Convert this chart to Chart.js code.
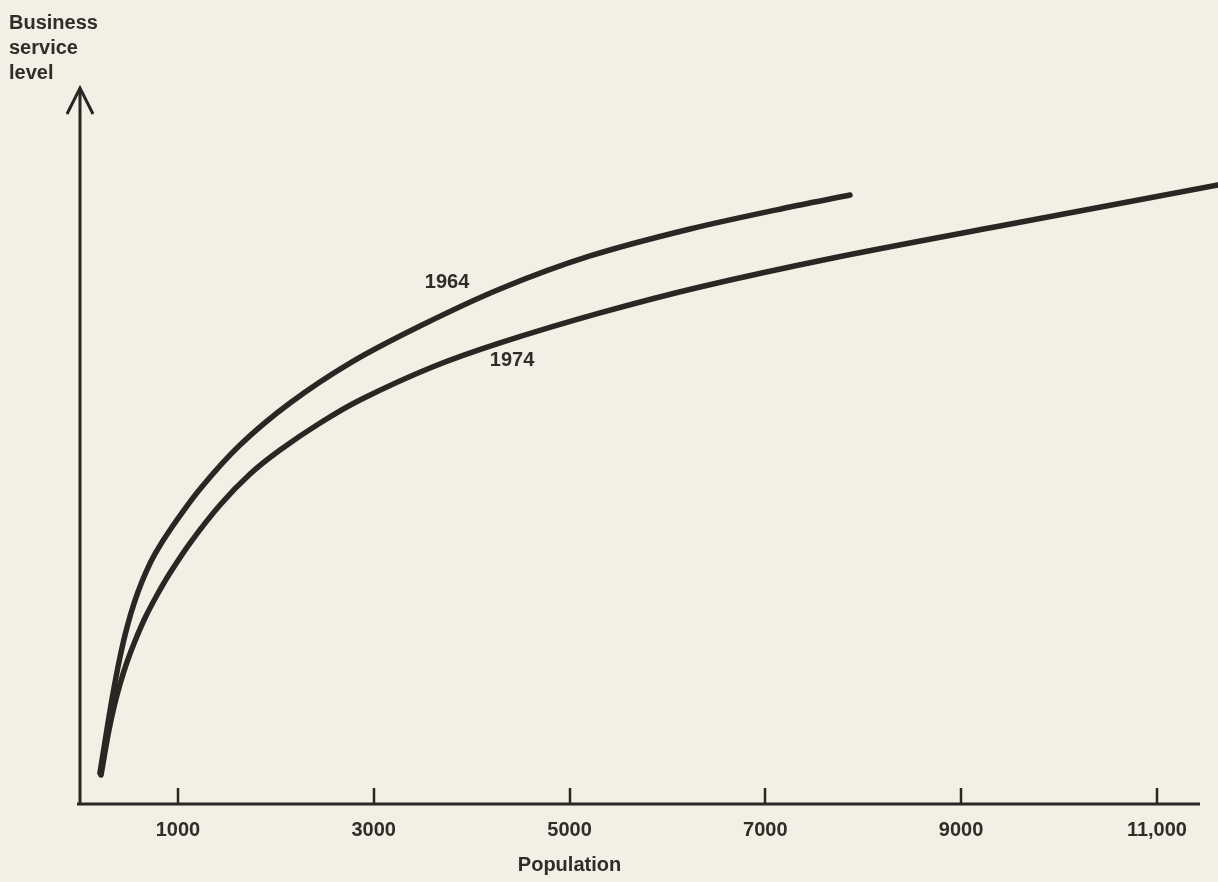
<!DOCTYPE html>
<html>
<head>
<meta charset="utf-8">
<title>Business service level vs population</title>
<script src="https://cdn.jsdelivr.net/npm/chart.js@4"></script>
<style>
  html, body { margin: 0; padding: 0; background: #f2efe4; }
  #wrap { width: 1218px; height: 882px; position: relative; }
</style>
</head>
<body>
<div id="wrap"><canvas id="chartjs"></canvas></div>
<script>
// population (x) and service level (y, arbitrary units)
var pop1964 = [204, 245, 286, 327, 368, 409, 460, 521, 592, 674, 766, 919, 1226, 1634, 2145, 2758, 3473, 4290, 5209, 6231, 7252, 7865];
var level1964 = [4.33, 7.82, 11.31, 14.66, 17.74, 20.53, 23.6, 26.68, 29.61, 32.4, 34.92, 38.27, 43.99, 50.14, 56.01, 61.59, 66.76, 71.93, 76.54, 80.31, 83.38, 85.06];

var pop1974 = [215, 255, 296, 347, 409, 480, 562, 664, 787, 919, 1124, 1430, 1737, 2043, 2452, 2860, 3575, 4290, 5312, 6333, 7692, 9397, 11624];
var level1974 = [4.05, 7.26, 10.34, 13.55, 16.76, 19.83, 22.77, 25.98, 29.19, 32.26, 36.45, 41.76, 46.09, 49.44, 53.21, 56.42, 60.89, 64.39, 68.58, 72.21, 76.26, 80.73, 86.45];

var xTicks = [1000, 3000, 5000, 7000, 9000, 11000];
var xTickLabels = ["1000", "3000", "5000", "7000", "9000", "11,000"];

// where the year labels sit, in data units
var curveLabels = ["1964", "1974"];
var labelPop = [3749, 4413];
var labelLevel = [72.9, 62.0];

var yTitle = ["Business", "service", "level"];
var xTitle = "Population";

var ink = "#2b2623";
var textInk = "#2f2c2a";
var boldFont = "bold 20px 'Liberation Sans', Arial, sans-serif";

function toPoints(xs, ys) {
  var pts = [];
  for (let i = 0; i < xs.length; i++) {
    pts.push({ x: xs[i], y: ys[i] });
  }
  return pts;
}

var axesPlugin = {
  id: "handAxes",
  afterDraw: function (chart) {
    var ctx = chart.ctx;
    var xs = chart.scales.x;
    var ys = chart.scales.y;
    var x0 = xs.getPixelForValue(0);
    var yb = ys.getPixelForValue(0);
    var yt = ys.getPixelForValue(100);
    ctx.save();
    ctx.strokeStyle = ink;
    ctx.lineCap = "butt";

    // y axis with arrow
    ctx.lineWidth = 3;
    ctx.beginPath();
    ctx.moveTo(x0, yb + 1);
    ctx.lineTo(x0, yt + 2);
    ctx.stroke();
    ctx.beginPath();
    ctx.lineJoin = "miter";
    ctx.moveTo(x0 - 13, yt + 26);
    ctx.lineTo(x0, yt);
    ctx.lineTo(x0 + 13, yt + 26);
    ctx.stroke();

    // x axis
    ctx.beginPath();
    ctx.moveTo(x0 - 3, yb);
    ctx.lineTo(chart.chartArea.right, yb);
    ctx.stroke();

    // ticks point up into the plot
    ctx.lineWidth = 2.5;
    for (let i = 0; i < xTicks.length; i++) {
      var px = Math.round(xs.getPixelForValue(xTicks[i]));
      ctx.beginPath();
      ctx.moveTo(px, yb);
      ctx.lineTo(px, yb - 16);
      ctx.stroke();
    }

    ctx.fillStyle = textInk;
    ctx.font = boldFont;
    ctx.textAlign = "center";
    ctx.textBaseline = "middle";
    for (let i = 0; i < xTicks.length; i++) {
      ctx.fillText(xTickLabels[i], xs.getPixelForValue(xTicks[i]), yb + 26);
    }
    ctx.fillText(xTitle, xs.getPixelForValue(5000), yb + 61);

    for (let i = 0; i < curveLabels.length; i++) {
      ctx.fillText(curveLabels[i], xs.getPixelForValue(labelPop[i]), ys.getPixelForValue(labelLevel[i]));
    }

    ctx.textAlign = "left";
    for (let i = 0; i < yTitle.length; i++) {
      ctx.fillText(yTitle[i], 9, 23 + i * 25);
    }
    ctx.restore();
  }
};

var chartCanvas = document.getElementById("chartjs");
var myChart = new Chart(chartCanvas, {
  type: "line",
  data: {
    datasets: [
      {
        label: "1964",
        data: toPoints(pop1964, level1964),
        borderColor: ink,
        borderWidth: 5.5,
        borderCapStyle: "round",
        borderJoinStyle: "round",
        pointRadius: 0,
        fill: false,
        tension: 0.3,
        clip: false
      },
      {
        label: "1974",
        data: toPoints(pop1974, level1974),
        borderColor: ink,
        borderWidth: 5.5,
        borderCapStyle: "round",
        borderJoinStyle: "round",
        pointRadius: 0,
        fill: false,
        tension: 0.3,
        clip: false
      }
    ]
  },
  options: {
    responsive: true,
    maintainAspectRatio: false,
    animation: false,
    layout: {
      padding: { left: 80, right: 18, top: 88, bottom: 78 }
    },
    plugins: {
      legend: { display: false },
      tooltip: { enabled: false }
    },
    scales: {
      x: { type: "linear", min: 0, max: 11440, display: false },
      y: { type: "linear", min: 0, max: 100, display: false }
    }
  },
  plugins: [axesPlugin]
});
</script>
</body>
</html>
